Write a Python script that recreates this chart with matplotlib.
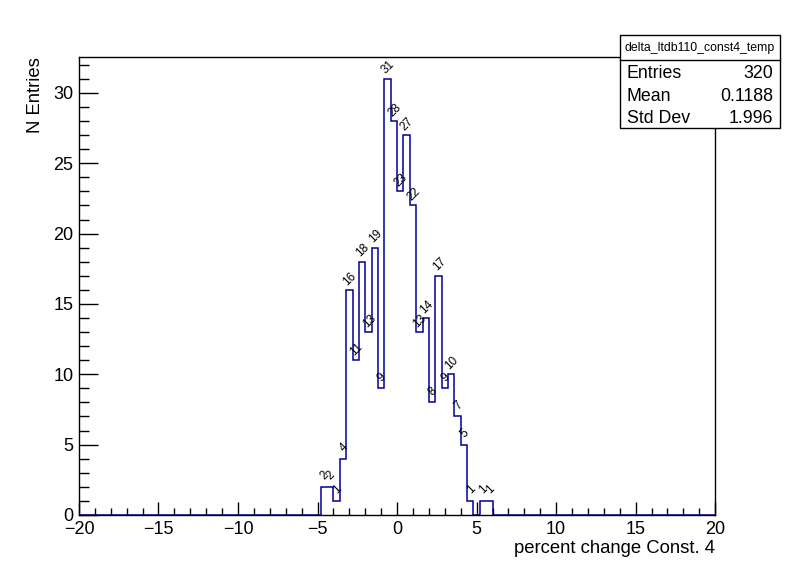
import matplotlib
matplotlib.use("Agg")
import matplotlib.pyplot as plt
from matplotlib.ticker import MultipleLocator
from matplotlib.patches import Rectangle
import numpy as np

plt.rcParams['font.family'] = ['Liberation Sans', 'DejaVu Sans']

# histogram: 100 bins of 0.4 from -20 to 20
x_lo, x_hi, nbins = -20.0, 20.0, 100
first_bin = -4.8
filled = [2, 2, 1, 4, 16, 11, 18, 13, 19, 9, 31, 28, 23, 27, 22,
          13, 14, 8, 17, 9, 10, 7, 5, 1, 0, 1, 1]
hist_name = "delta_ltdb110_const4_temp"
stats_labels = ["Entries", "Mean", "Std Dev"]
stats_values = ["320", "0.1188", "1.996"]

edges = np.linspace(x_lo, x_hi, nbins + 1)
counts = np.zeros(nbins)
start = int(round((first_bin - x_lo) / 0.4))
counts[start:start + len(filled)] = filled

fig = plt.figure(figsize=(7.96, 5.72), dpi=100)
ax = fig.add_axes([0.0992, 0.0997, 0.7993, 0.8006])

ax.stairs(counts, edges, color='#000099', linewidth=1.1)

centers = 0.5 * (edges[:-1] + edges[1:])
for c, v in zip(centers, counts):
    if v > 0:
        ax.annotate(f"{int(v)}", (c, v), xytext=(0.5, 8), textcoords='offset points',
                    ha='center', va='center', rotation=45, fontsize=8.5)

ax.set_xlim(x_lo, x_hi)
ax.set_ylim(0, 31 * 1.05)
ax.xaxis.set_major_locator(MultipleLocator(5))
ax.xaxis.set_minor_locator(MultipleLocator(1))
ax.yaxis.set_major_locator(MultipleLocator(5))
ax.yaxis.set_minor_locator(MultipleLocator(1))
ax.tick_params(axis='x', which='major', direction='in', length=9.5, width=1, labelsize=13, pad=4)
ax.tick_params(axis='x', which='minor', direction='in', length=5, width=1)
ax.tick_params(axis='y', which='major', direction='in', length=13.7, width=1, labelsize=13, pad=4)
ax.tick_params(axis='y', which='minor', direction='in', length=7, width=1)
for s in ax.spines.values():
    s.set_linewidth(1)

ax.set_xlabel("percent change Const. 4", fontsize=13.3, loc='right', labelpad=2)
ax.set_ylabel("N Entries", fontsize=13.3, loc='top', labelpad=7)

# stats box
bx0, bx1 = 620 / 796, 780 / 796
by_top, by_bot = 1 - 35 / 572, 1 - 128 / 572
sep = 1 - 60 / 572
fig.patches.append(Rectangle((bx0, by_bot), bx1 - bx0, by_top - by_bot,
                             transform=fig.transFigure, facecolor='white',
                             edgecolor='black', linewidth=1, zorder=5))
fig.lines.append(plt.Line2D([bx0, bx1], [sep, sep], transform=fig.transFigure,
                            color='black', linewidth=1, zorder=6))
fig.text((bx0 + bx1) / 2, (by_top + sep) / 2, hist_name, ha='center', va='center',
         fontsize=8.8, zorder=7)
row_h = (sep - by_bot) / 3
for i, (lab, val) in enumerate(zip(stats_labels, stats_values)):
    yy = sep - row_h * (i + 0.5) - 2 / 572
    fig.text(bx0 + 7 / 796, yy, lab, ha='left', va='center', fontsize=12.8, zorder=7)
    fig.text(bx1 - 7 / 796, yy, val, ha='right', va='center', fontsize=12.8, zorder=7)

fig.savefig("out.png", dpi=100)
